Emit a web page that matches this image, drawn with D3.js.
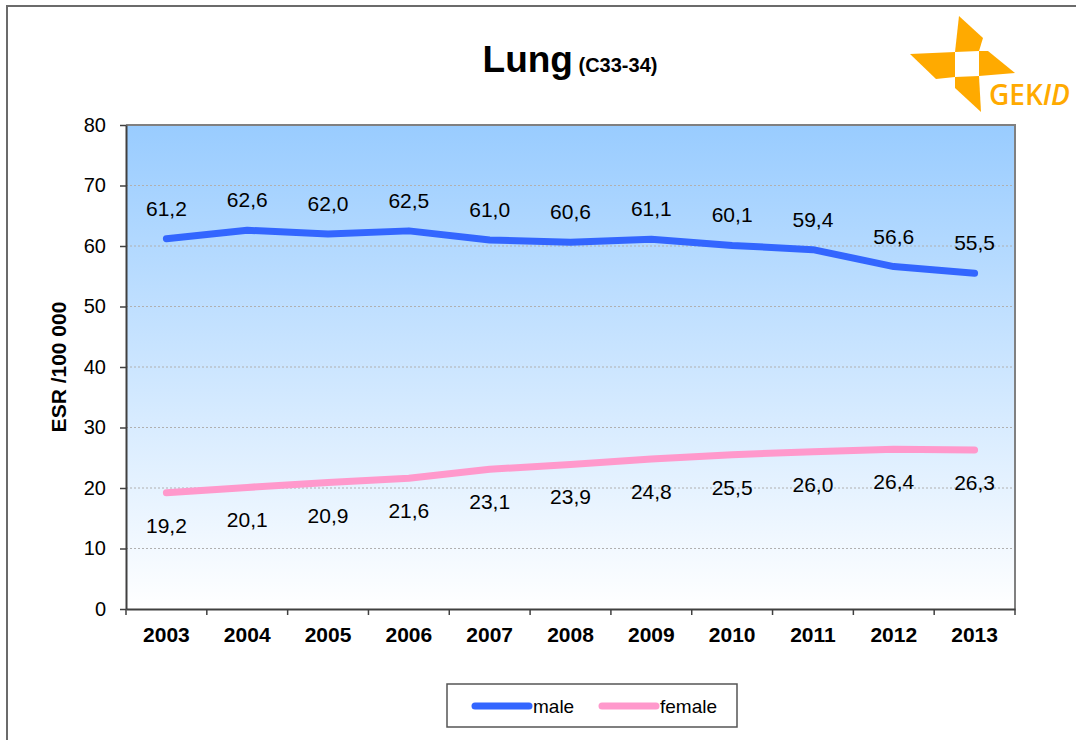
<!DOCTYPE html>
<meta charset="utf-8">
<script src="https://d3js.org/d3.v7.min.js"></script>
<style>
  body { margin: 0; background: #fff; }
  text { font-family: "Liberation Sans", Arial, sans-serif; }
</style>
<body>
<div id="chart"></div>
<script>
// data
var years = ["2003","2004","2005","2006","2007","2008","2009","2010","2011","2012","2013"];
var male = [61.2, 62.6, 62.0, 62.5, 61.0, 60.6, 61.1, 60.1, 59.4, 56.6, 55.5];
var female = [19.2, 20.1, 20.9, 21.6, 23.1, 23.9, 24.8, 25.5, 26.0, 26.4, 26.3];
var yTicks = [0, 10, 20, 30, 40, 50, 60, 70, 80];

var W = 1076, H = 740;
var margin = {top: 125, right: 61, bottom: 131, left: 126};
var width = W - margin.left - margin.right,
    height = H - margin.top - margin.bottom;

var svg = d3.select("#chart").append("svg")
    .attr("width", W).attr("height", H);

// outer frame
svg.append("path")
    .attr("d", "M7," + H + "V6H" + W)
    .attr("fill", "none").attr("stroke", "#6b6b6b").attr("stroke-width", 2);

// background gradient
var grad = svg.append("defs").append("linearGradient")
    .attr("id", "bg").attr("x1", 0).attr("y1", 0).attr("x2", 0).attr("y2", 1);
grad.append("stop").attr("offset", "0%").attr("stop-color", "#99ccff");
grad.append("stop").attr("offset", "100%").attr("stop-color", "#ffffff");

var g = svg.append("g").attr("transform", "translate(" + margin.left + "," + margin.top + ")");

g.append("rect").attr("width", width).attr("height", height).attr("fill", "url(#bg)");

var x = d3.scaleBand().domain(years).range([0, width]);
var y = d3.scaleLinear().domain([0, 80]).range([height, 0]);

// gridlines
g.selectAll(".grid").data(yTicks.slice(1, -1)).enter().append("line")
    .attr("x1", 0).attr("x2", width)
    .attr("y1", function(d) { return y(d); }).attr("y2", function(d) { return y(d); })
    .attr("stroke", "#b0b0b0").attr("stroke-width", 1).attr("stroke-dasharray", "2,2");

// plot border top/right
g.append("path")
    .attr("d", "M0,0H" + width + "V" + height)
    .attr("fill", "none").attr("stroke", "#808080").attr("stroke-width", 2);

// y axis
var yAxis = g.append("g")
    .call(d3.axisLeft(y).tickValues(yTicks).tickSize(6).tickSizeOuter(0).tickPadding(14));
yAxis.select(".domain").attr("stroke", "#404040").attr("stroke-width", 2);
yAxis.selectAll(".tick line").attr("stroke", "#404040").attr("stroke-width", 1.5);
yAxis.selectAll("text").style("font-size", "20px").attr("fill", "#000")
    .style("font-family", "Liberation Sans, Arial, sans-serif");

// x axis
var xAxis = g.append("g").attr("transform", "translate(0," + height + ")")
    .call(d3.axisBottom(x).tickSize(0).tickPadding(18));
xAxis.select(".domain").attr("stroke", "#404040").attr("stroke-width", 2);
xAxis.selectAll("text").style("font-size", "21px").style("font-weight", "bold").attr("fill", "#000")
    .style("font-family", "Liberation Sans, Arial, sans-serif");
// boundary ticks
g.selectAll(".xb").data(years.concat(["end"])).enter().append("line")
    .attr("x1", function(d, i) { return i * x.step(); })
    .attr("x2", function(d, i) { return i * x.step(); })
    .attr("y1", height).attr("y2", height + 6)
    .attr("stroke", "#404040").attr("stroke-width", 1.5);

// y axis label
svg.append("text")
    .attr("transform", "translate(66," + (margin.top + height / 2) + ") rotate(-90)")
    .attr("text-anchor", "middle")
    .style("font-size", "21px").style("font-weight", "bold")
    .text("ESR /100 000");

// title
var title = svg.append("text").attr("x", 570).attr("y", 72).attr("text-anchor", "middle");
title.append("tspan").style("font-size", "37px").style("font-weight", "bold").text("Lung");
title.append("tspan").style("font-size", "20px").style("font-weight", "bold").text(" (C33-34)");

// lines
var line = d3.line()
    .x(function(d, i) { return x(years[i]) + x.bandwidth() / 2; })
    .y(function(d) { return y(d); });

var series = [
  {name: "male", values: male, color: "#3366ff", dy: -23},
  {name: "female", values: female, color: "#ff99cc", dy: 40}
];

series.forEach(function(s) {
  g.append("path").datum(s.values)
    .attr("d", line)
    .attr("fill", "none").attr("stroke", s.color)
    .attr("stroke-width", 7).attr("stroke-linecap", "round").attr("stroke-linejoin", "round");
  g.selectAll(".lbl-" + s.name).data(s.values).enter().append("text")
    .attr("x", function(d, i) { return x(years[i]) + x.bandwidth() / 2; })
    .attr("y", function(d) { return y(d) + s.dy; })
    .attr("text-anchor", "middle")
    .style("font-size", "21px")
    .text(function(d) { return d.toFixed(1).replace(".", ","); });
});

// legend
var lg = svg.append("g").attr("transform", "translate(447,684)");
lg.append("rect").attr("width", 290).attr("height", 43)
    .attr("fill", "#fff").attr("stroke", "#555").attr("stroke-width", 1.5);
series.forEach(function(s, i) {
  var ox = i === 0 ? 26 : 153;
  lg.append("line").attr("x1", ox + 2).attr("x2", ox + 56).attr("y1", 22).attr("y2", 22)
    .attr("stroke", s.color).attr("stroke-width", 7).attr("stroke-linecap", "round");
  lg.append("text").attr("x", ox + 60).attr("y", 29).style("font-size", "19px").text(s.name);
});

// GEKID logo
var logo = svg.append("g").attr("fill", "#ffaa00");
var blades = [
  [[959,16],[983,38],[979,51],[955,52]],
  [[910,54],[955,52],[955,77],[936,79]],
  [[979,51],[988,51],[1015,73],[979,76]],
  [[955,77],[979,76],[981,112],[955,88]]
];
blades.forEach(function(p) {
  logo.append("polygon").attr("points", p.map(function(q) { return q.join(","); }).join(" "));
});
var lt = svg.append("text").attr("x", 989).attr("y", 105).attr("fill", "#ffaa00")
    .style("font-size", "28px").style("font-weight", "600").style("font-family", "Open Sans, sans-serif");
lt.append("tspan").text("GEK");
lt.append("tspan").style("font-style", "italic").text("ID");
</script>
</body>
